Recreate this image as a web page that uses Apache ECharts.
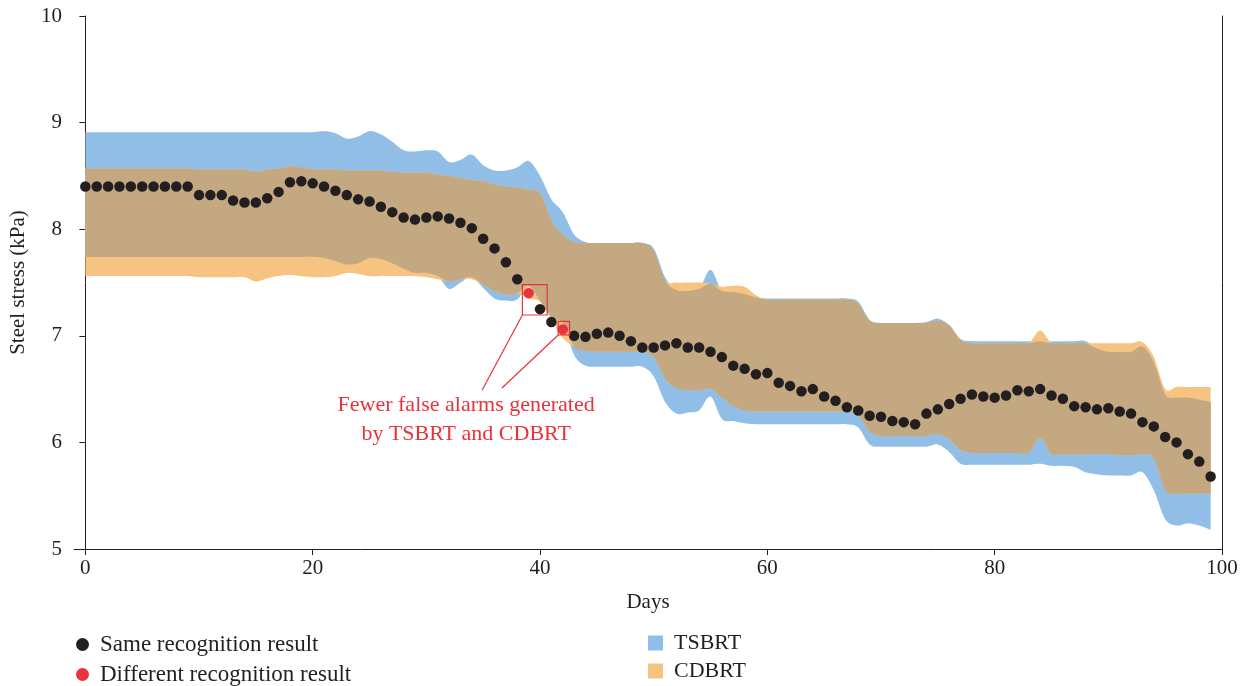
<!DOCTYPE html>
<html>
<head>
<meta charset="utf-8">
<script src="https://cdn.jsdelivr.net/npm/echarts@6/dist/echarts.min.js"></script>
<style>
html,body{margin:0;padding:0;background:#fff;}
#chart{width:1249px;height:686px;}
</style>
</head>
<body>
<div id="chart"></div>
<script>
// ---- data ----
const days = Array.from({length: 100}, (_, i) => i);
const xTicks = [0, 20, 40, 60, 80, 100];
const diffDays = [39, 42];

const stress = [
  8.40, 8.40, 8.40, 8.40, 8.40, 8.40, 8.40, 8.40, 8.40, 8.40,
  8.32, 8.32, 8.32, 8.27, 8.25, 8.25, 8.29, 8.35, 8.44, 8.45,
  8.43, 8.40, 8.36, 8.32, 8.28, 8.26, 8.21, 8.16, 8.11, 8.09,
  8.11, 8.12, 8.10, 8.06, 8.01, 7.91, 7.82, 7.69, 7.53, 7.40,
  7.25, 7.13, 7.06, 7.00, 6.99, 7.02, 7.03, 7.00, 6.95, 6.89,
  6.89, 6.91, 6.93, 6.89, 6.89, 6.85, 6.80, 6.72, 6.69, 6.64,
  6.65, 6.56, 6.53, 6.48, 6.50, 6.43, 6.39, 6.33, 6.30, 6.25,
  6.24, 6.20, 6.19, 6.17, 6.27, 6.31, 6.36, 6.41, 6.45, 6.43,
  6.42, 6.44, 6.49, 6.48, 6.50, 6.44, 6.41, 6.34, 6.33, 6.31,
  6.32, 6.29, 6.27, 6.19, 6.15, 6.05, 6.00, 5.89, 5.82, 5.68
];

const tsbrtHigh = [
  8.91, 8.91, 8.91, 8.91, 8.91, 8.91, 8.91, 8.91, 8.91, 8.91,
  8.91, 8.91, 8.91, 8.91, 8.91, 8.91, 8.91, 8.91, 8.91, 8.91,
  8.91, 8.92, 8.90, 8.85, 8.87, 8.92, 8.89, 8.82, 8.74, 8.73,
  8.74, 8.73, 8.63, 8.65, 8.70, 8.60, 8.55, 8.55, 8.58, 8.64,
  8.50, 8.28, 8.16, 7.95, 7.88, 7.87, 7.87, 7.87, 7.87, 7.87,
  7.82, 7.55, 7.43, 7.42, 7.44, 7.62, 7.42, 7.41, 7.39, 7.36,
  7.35, 7.35, 7.35, 7.35, 7.35, 7.35, 7.35, 7.35, 7.32, 7.15,
  7.12, 7.12, 7.12, 7.12, 7.13, 7.16, 7.10, 6.97, 6.95, 6.95,
  6.95, 6.95, 6.95, 6.95, 6.95, 6.95, 6.95, 6.95, 6.95, 6.88,
  6.85, 6.85, 6.85, 6.90, 6.75, 6.45, 6.42, 6.42, 6.40, 6.38
];

const tsbrtLow = [
  7.74, 7.74, 7.74, 7.74, 7.74, 7.74, 7.74, 7.74, 7.74, 7.74,
  7.74, 7.74, 7.74, 7.74, 7.74, 7.74, 7.74, 7.74, 7.74, 7.74,
  7.74, 7.73, 7.70, 7.67, 7.68, 7.73, 7.72, 7.68, 7.63, 7.59,
  7.59, 7.56, 7.44, 7.50, 7.55, 7.45, 7.35, 7.33, 7.34, 7.47,
  7.33, 7.18, 7.12, 6.82, 6.72, 6.71, 6.71, 6.71, 6.71, 6.71,
  6.62, 6.38, 6.27, 6.28, 6.30, 6.43, 6.22, 6.20, 6.18, 6.17,
  6.17, 6.17, 6.17, 6.17, 6.17, 6.17, 6.17, 6.17, 6.14, 5.98,
  5.96, 5.96, 5.96, 5.96, 5.96, 5.98, 5.91, 5.80, 5.79, 5.79,
  5.79, 5.79, 5.79, 5.79, 5.80, 5.78, 5.78, 5.77, 5.72, 5.70,
  5.69, 5.69, 5.69, 5.72, 5.55, 5.28, 5.22, 5.24, 5.22, 5.18
];

const cdbrtHigh = [
  8.57, 8.57, 8.57, 8.57, 8.57, 8.57, 8.57, 8.57, 8.57, 8.57,
  8.56, 8.56, 8.56, 8.56, 8.56, 8.54, 8.56, 8.57, 8.59, 8.58,
  8.56, 8.56, 8.56, 8.55, 8.55, 8.55, 8.55, 8.54, 8.53, 8.53,
  8.53, 8.51, 8.50, 8.48, 8.46, 8.45, 8.42, 8.40, 8.39, 8.37,
  8.34, 8.08, 7.95, 7.88, 7.87, 7.87, 7.87, 7.87, 7.87, 7.87,
  7.80, 7.52, 7.50, 7.50, 7.50, 7.49, 7.46, 7.47, 7.46, 7.38,
  7.34, 7.34, 7.34, 7.34, 7.34, 7.34, 7.34, 7.34, 7.30, 7.14,
  7.12, 7.12, 7.12, 7.12, 7.12, 7.14, 7.10, 6.96, 6.93, 6.93,
  6.93, 6.93, 6.93, 6.93, 7.05, 6.93, 6.93, 6.93, 6.93, 6.93,
  6.93, 6.93, 6.93, 6.94, 6.80, 6.50, 6.52, 6.52, 6.52, 6.52
];

const cdbrtLow = [
  7.56, 7.56, 7.56, 7.56, 7.56, 7.56, 7.56, 7.56, 7.56, 7.56,
  7.55, 7.55, 7.55, 7.55, 7.55, 7.51, 7.54, 7.56, 7.57, 7.56,
  7.55, 7.55, 7.56, 7.59, 7.58, 7.56, 7.56, 7.56, 7.56, 7.56,
  7.55, 7.53, 7.51, 7.53, 7.53, 7.48, 7.42, 7.39, 7.40, 7.35,
  7.32, 7.15, 6.98, 6.90, 6.86, 6.85, 6.85, 6.85, 6.85, 6.85,
  6.80, 6.60, 6.51, 6.49, 6.49, 6.50, 6.42, 6.34, 6.30, 6.29,
  6.29, 6.29, 6.29, 6.29, 6.29, 6.29, 6.29, 6.29, 6.26, 6.10,
  6.06, 6.06, 6.06, 6.06, 6.06, 6.08, 6.03, 5.93, 5.90, 5.90,
  5.90, 5.90, 5.90, 5.90, 6.04, 5.89, 5.89, 5.89, 5.89, 5.89,
  5.89, 5.88, 5.88, 5.89, 5.85, 5.55, 5.52, 5.52, 5.52, 5.52
];

// ---- styling ----
const FONT = 'Liberation Serif';
const TXT = '#231f20';
const BLUE = '#90bee6';
const ORANGE = '#f7c380';
const TAN = '#c4a882';
const RED = '#e8333a';

const overlapLow = days.map((d, i) => Math.max(tsbrtLow[i], cdbrtLow[i]));
const overlapHigh = days.map((d, i) => Math.min(tsbrtHigh[i], cdbrtHigh[i]));

// Catmull-Rom smoothing in pixel space (rendering only)
function smoothPixels(pts, steps) {
  const out = [];
  const n = pts.length;
  for (let i = 0; i < n - 1; i++) {
    const p0 = pts[Math.max(i - 1, 0)], p1 = pts[i], p2 = pts[i + 1], p3 = pts[Math.min(i + 2, n - 1)];
    for (let s = 0; s < steps; s++) {
      const t = s / steps, t2 = t * t, t3 = t2 * t;
      const f = k => 0.5 * (2 * p1[k] + (-p0[k] + p2[k]) * t + (2 * p0[k] - 5 * p1[k] + 4 * p2[k] - p3[k]) * t2 + (-p0[k] + 3 * p1[k] - 3 * p2[k] + p3[k]) * t3);
      out.push([f(0), f(1)]);
    }
  }
  out.push(pts[n - 1]);
  return out;
}

function bandSeries(name, lo, hi, color, z) {
  return {
    name: name, type: 'custom', z: z, silent: true, clip: true,
    itemStyle: {color: color},
    data: [[days[0], lo[0]]],
    encode: {x: 0, y: 1},
    renderItem: function (params, api) {
      const top = smoothPixels(days.map((d, i) => api.coord([d, hi[i]])), 8);
      const bot = smoothPixels(days.map((d, i) => api.coord([d, lo[i]])), 8);
      const pts = top.concat(bot.reverse());
      return {type: 'polygon', shape: {points: pts}, style: {fill: color}};
    }
  };
}

const sameData = days.filter(d => !diffDays.includes(d)).map(d => [d, stress[d]]);
const diffData = diffDays.map(d => [d, stress[d]]);

const chart = echarts.init(document.getElementById('chart'), null, {renderer: 'canvas'});
chart.setOption({
  animation: false,
  backgroundColor: '#fff',
  grid: {left: 74, right: 27, top: 16, bottom: 137},
  xAxis: {
    type: 'value', min: -1, max: 100,
    name: 'Days', nameLocation: 'middle', nameGap: 43,
    nameTextStyle: {fontFamily: FONT, fontSize: 21, color: TXT},
    axisLine: {show: true, lineStyle: {color: TXT, width: 1}},
    axisTick: {show: true, inside: false, length: 6, customValues: xTicks, lineStyle: {color: TXT}},
    axisLabel: {customValues: xTicks, fontFamily: FONT, fontSize: 21, color: TXT, margin: 9},
    splitLine: {show: false}
  },
  yAxis: [
    {
      type: 'value', min: 5, max: 10, interval: 1,
      name: 'Steel stress (kPa)', nameLocation: 'middle', nameGap: 45, nameRotate: 90,
      nameTextStyle: {fontFamily: FONT, fontSize: 21, color: TXT},
      axisLine: {show: true, lineStyle: {color: TXT, width: 1}},
      axisTick: {show: true, inside: false, length: 6, lineStyle: {color: TXT}},
      axisLabel: {fontFamily: FONT, fontSize: 21, color: TXT, margin: 12},
      splitLine: {show: false}
    },
    {
      type: 'value', min: 5, max: 10, interval: 1, position: 'right',
      axisLine: {show: true, lineStyle: {color: TXT, width: 1}},
      axisTick: {show: false}, axisLabel: {show: false}, splitLine: {show: false}
    }
  ],
  legend: [
    {
      orient: 'vertical', left: 76, top: 633, padding: 0,
      itemWidth: 25, itemHeight: 13, itemGap: 7,
      icon: 'circle',
      textStyle: {fontFamily: FONT, fontSize: 23, color: TXT},
      data: [
        {name: 'Same recognition result', itemStyle: {color: TXT}},
        {name: 'Different recognition result', itemStyle: {color: RED}}
      ]
    },
    {
      orient: 'vertical', left: 648, top: 632, padding: 0,
      itemWidth: 15, itemHeight: 15, itemGap: 6,
      icon: 'rect',
      textStyle: {fontFamily: FONT, fontSize: 22, color: TXT, padding: [0, 0, 0, 6]},
      data: [
        {name: 'TSBRT', itemStyle: {color: BLUE}},
        {name: 'CDBRT', itemStyle: {color: ORANGE}}
      ]
    }
  ],
  series: [
    bandSeries('TSBRT', tsbrtLow, tsbrtHigh, BLUE, 1),
    bandSeries('CDBRT', cdbrtLow, cdbrtHigh, ORANGE, 2),
    bandSeries('Overlap', overlapLow, overlapHigh, TAN, 3),
    {
      name: 'Same recognition result', type: 'scatter', data: sameData,
      symbol: 'circle', symbolSize: 10.5, itemStyle: {color: TXT, opacity: 1}, z: 5
    },
    {
      name: 'Different recognition result', type: 'scatter', data: diffData,
      symbol: 'circle', symbolSize: 10.5, itemStyle: {color: RED, opacity: 1}, z: 6,
      markArea: {
        silent: true, z: 10,
        itemStyle: {color: 'rgba(0,0,0,0)', borderColor: RED, borderWidth: 1.2},
        data: [
          [{coord: [38.45, 7.48]}, {coord: [40.63, 7.195]}],
          [{coord: [41.6, 7.136]}, {coord: [42.6, 7.008]}]
        ]
      },
      markLine: {
        silent: true, z: 10, symbol: ['none', 'none'],
        lineStyle: {color: RED, width: 1.2, type: 'solid'},
        label: {show: false},
        data: [
          [{coord: [38.45, 7.195]}, {coord: [34.9, 6.49]}],
          [{coord: [41.6, 7.008]}, {coord: [36.65, 6.51]}]
        ]
      },
      markPoint: {
        silent: true, z: 10, symbol: 'circle', symbolSize: 0,
        data: [{coord: [33.5, 6.215], value: ''}],
        label: {
          show: true, position: 'inside',
          formatter: 'Fewer false alarms generated\nby TSBRT and CDBRT',
          fontFamily: FONT, fontSize: 22, color: RED, lineHeight: 29, align: 'center'
        }
      }
    }
  ]
});
</script>
</body>
</html>
